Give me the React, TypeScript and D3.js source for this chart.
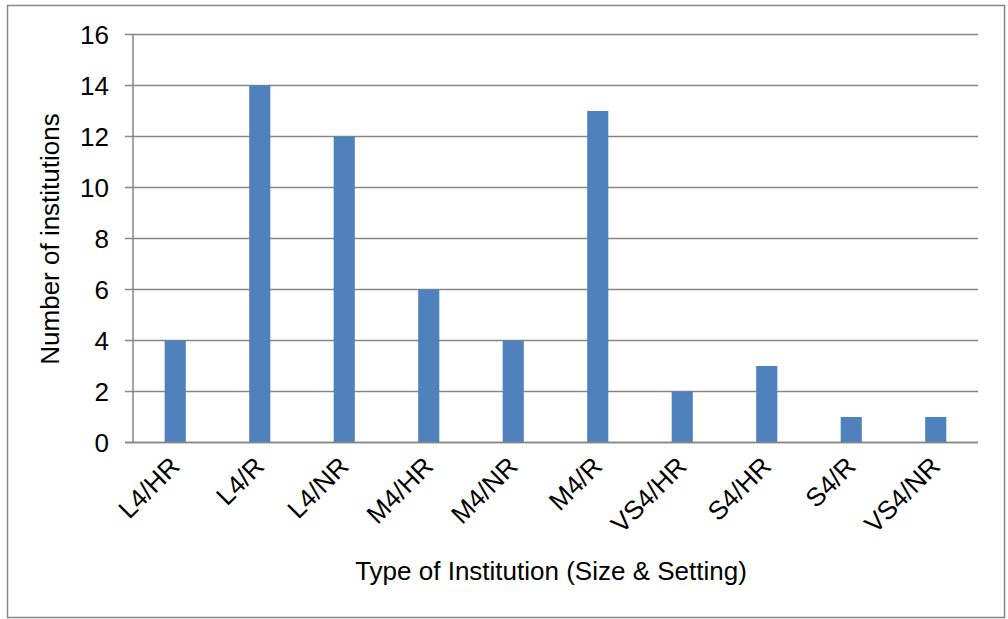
import React from "react";
import * as d3 from "d3";

const categories = ["L4/HR", "L4/R", "L4/NR", "M4/HR", "M4/NR", "M4/R", "VS4/HR", "S4/HR", "S4/R", "VS4/NR"];
const values = [4, 14, 12, 6, 4, 13, 2, 3, 1, 1];
const yTicks = [0, 2, 4, 6, 8, 10, 12, 14, 16];
const xTitle = "Type of Institution (Size & Setting)";
const yTitle = "Number of institutions";

const W = 1008;
const H = 619;
const left = 133;
const right = 978;
const top = 34.5;
const bottom = 442.5;
const FONT = "'Liberation Sans', Arial, sans-serif";
const GRID = "#868686";
const BAR = "#4F81BD";
const FS = 26;

export default function App() {
  const x = d3.scaleBand<string>().domain(categories).range([left, right]).paddingInner(0.75).paddingOuter(0.375);
  const y = d3.scaleLinear().domain([0, 16]).range([bottom, top]);
  return (
    <svg width={W} height={H} style={{ position: "absolute", left: 0, top: 0, background: "#fff" }} fontFamily={FONT}>
      <rect x={7.5} y={5.5} width={997} height={612} fill="#fff" stroke={GRID} strokeWidth={1.5} />
      {yTicks.map((t) => (
        <g key={t}>
          <line x1={125} x2={right} y1={y(t)} y2={y(t)} stroke={GRID} strokeWidth={1.5} />
          <text x={109} y={y(t)} dy="0.36em" textAnchor="end" fontSize={FS} fill="#000">{t}</text>
        </g>
      ))}
      <line x1={left} x2={left} y1={top} y2={bottom} stroke={GRID} strokeWidth={1.5} />
      {categories.map((c, i) => (
        <rect key={c} x={x(c)!} y={y(values[i])} width={x.bandwidth()} height={y(0) - y(values[i])} fill={BAR} />
      ))}
      <line x1={125} x2={right} y1={y(0)} y2={y(0)} stroke={GRID} strokeWidth={1.5} />
      {categories.map((c) => {
        const cx = x(c)! + x.bandwidth() / 2 + 6;
        const cy = 468;
        return (
          <text key={c} x={cx} y={cy} textAnchor="end" fontSize={FS} fill="#000" transform={`rotate(-45 ${cx} ${cy})`}>
            {c}
          </text>
        );
      })}
      <text x={551} y={580} textAnchor="middle" fontSize={FS} fill="#000">{xTitle}</text>
      <text transform={`translate(59 ${239}) rotate(-90)`} textAnchor="middle" fontSize={FS} fill="#000">{yTitle}</text>
    </svg>
  );
}
